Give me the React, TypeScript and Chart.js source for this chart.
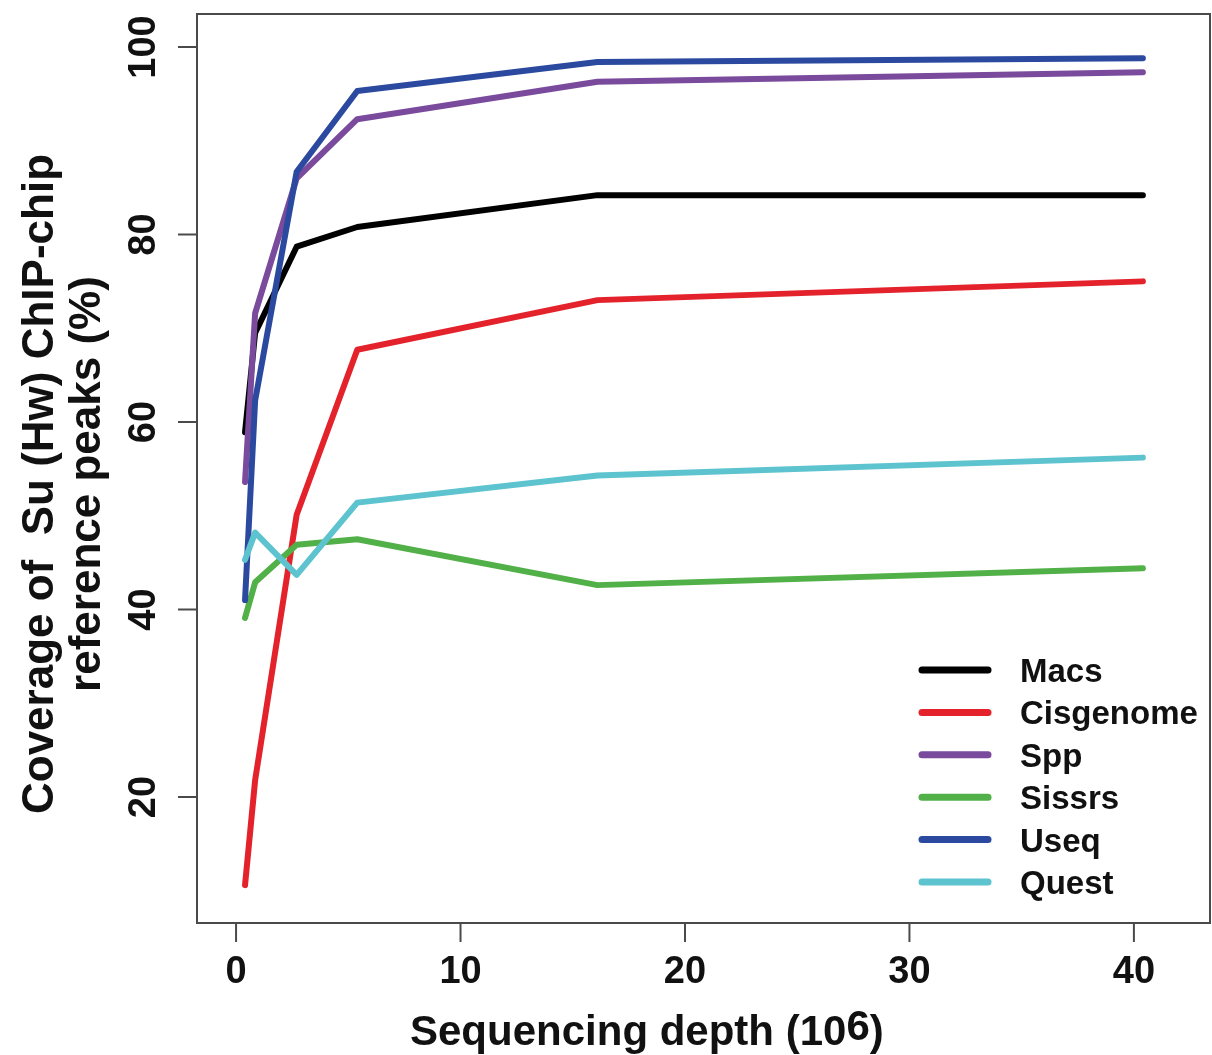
import { useEffect, useRef } from "react";
import { Chart, registerables } from "chart.js";

Chart.register(...registerables);

// Sequencing depth (millions of reads)
const depth = [0.4, 0.85, 2.7, 5.4, 16.1, 40.4];

const seriesNames = ["Macs", "Cisgenome", "Spp", "Sissrs", "Useq", "Quest"];
const macs = [58.9, 69.5, 78.7, 80.8, 84.2, 84.2];
const cisgenome = [10.6, 21.8, 50.1, 67.7, 73.0, 75.0];
const spp = [53.6, 71.6, 86.0, 92.3, 96.3, 97.3];
const sissrs = [39.1, 42.9, 46.9, 47.5, 42.6, 44.4];
const useq = [41.0, 62.3, 86.7, 95.3, 98.4, 98.8];
const quest = [45.3, 48.2, 43.7, 51.4, 54.3, 56.2];
const seriesValues = [macs, cisgenome, spp, sissrs, useq, quest];
const seriesColors = ["#000000", "#e3222b", "#7a4a9c", "#52b048", "#2b4a9f", "#5cc3cf"];

const xTicks = [0, 10, 20, 30, 40];
const yTicks = [20, 40, 60, 80, 100];
const xTitle = "Sequencing depth (10";
const xTitleSup = "6";
const xTitleEnd = ")";
const yTitleLines = ["Coverage of  Su (Hw) ChIP-chip", "reference peaks (%)"];

const FONT = '"Liberation Sans", Arial, Helvetica, sans-serif';

const framePlugin = {
  id: "rframe",
  afterDraw(chart: any) {
    const { ctx, chartArea: a, scales } = chart;
    const xs = scales.x;
    const ys = scales.y;
    ctx.save();
    // box
    ctx.strokeStyle = "#4a4a4a";
    ctx.lineWidth = 2;
    ctx.strokeRect(a.left, a.top, a.right - a.left, a.bottom - a.top);

    ctx.fillStyle = "#111111";
    ctx.font = `bold 38px ${FONT}`;
    ctx.textAlign = "center";
    ctx.textBaseline = "alphabetic";
    // x ticks
    xTicks.forEach((v) => {
      const px = xs.getPixelForValue(v);
      ctx.beginPath();
      ctx.moveTo(px, a.bottom);
      ctx.lineTo(px, a.bottom + 19);
      ctx.stroke();
      ctx.fillText(String(v), px, a.bottom + 60);
    });
    // y ticks
    yTicks.forEach((v) => {
      const py = ys.getPixelForValue(v);
      ctx.beginPath();
      ctx.moveTo(a.left - 19, py);
      ctx.lineTo(a.left, py);
      ctx.stroke();
      ctx.save();
      ctx.translate(a.left - 42, py);
      ctx.rotate(-Math.PI / 2);
      ctx.fillText(String(v), 0, 0);
      ctx.restore();
    });

    // x title
    ctx.font = `bold 42px ${FONT}`;
    ctx.textAlign = "left";
    const tx = 410;
    const ty = 1045;
    ctx.fillText(xTitle, tx, ty);
    const w1 = ctx.measureText(xTitle).width;
    ctx.fillText(xTitleSup, tx + w1, ty - 5);
    const w2 = ctx.measureText(xTitleSup).width;
    ctx.fillText(xTitleEnd, tx + w1 + w2, ty);

    // y title
    ctx.font = `bold 44px ${FONT}`;
    ctx.textAlign = "center";
    const cy = 484;
    [53, 100].forEach((bx, i) => {
      ctx.save();
      ctx.translate(bx, cy);
      ctx.rotate(-Math.PI / 2);
      ctx.fillText(yTitleLines[i], 0, 0);
      ctx.restore();
    });

    // legend
    ctx.font = `bold 33px ${FONT}`;
    ctx.textAlign = "left";
    ctx.lineCap = "round";
    ctx.lineWidth = 7;
    chart.data.datasets.forEach((ds: any, i: number) => {
      const ry = 670 + 42.4 * i;
      ctx.strokeStyle = ds.borderColor;
      ctx.beginPath();
      ctx.moveTo(922, ry);
      ctx.lineTo(988, ry);
      ctx.stroke();
      ctx.fillStyle = "#111111";
      ctx.fillText(ds.label, 1020, ry + 12);
    });
    ctx.restore();
  },
};

export default function App() {
  const ref = useRef<HTMLCanvasElement>(null);
  useEffect(() => {
    if (!ref.current) return;
    const datasets = seriesNames.map((name, i) => ({
      label: name,
      data: depth.map((d, j) => ({ x: d, y: seriesValues[i][j] })),
      borderColor: seriesColors[i],
      backgroundColor: seriesColors[i],
      borderWidth: 6,
      borderCapStyle: "round" as const,
      borderJoinStyle: "round" as const,
      pointRadius: 0,
      tension: 0,
      fill: false,
      order: seriesNames.length - i,
    }));
    const chart = new Chart(ref.current, {
      type: "line",
      data: { datasets },
      options: {
        animation: false,
        responsive: false,
        maintainAspectRatio: false,
        layout: { padding: { left: 197, top: 14, right: 2, bottom: 132 } },
        plugins: { legend: { display: false }, tooltip: { enabled: false } },
        scales: {
          x: { type: "linear", min: -1.74, max: 43.39, display: false },
          y: { type: "linear", min: 6.56, max: 103.52, display: false },
        },
      },
      plugins: [framePlugin],
    });
    return () => chart.destroy();
  }, []);
  return (
    <div style={{ position: "absolute", left: 0, top: 0, width: 1212, height: 1055, background: "#fff" }}>
      <canvas ref={ref} width={1212} height={1055} style={{ width: 1212, height: 1055, display: "block" }} />
    </div>
  );
}
